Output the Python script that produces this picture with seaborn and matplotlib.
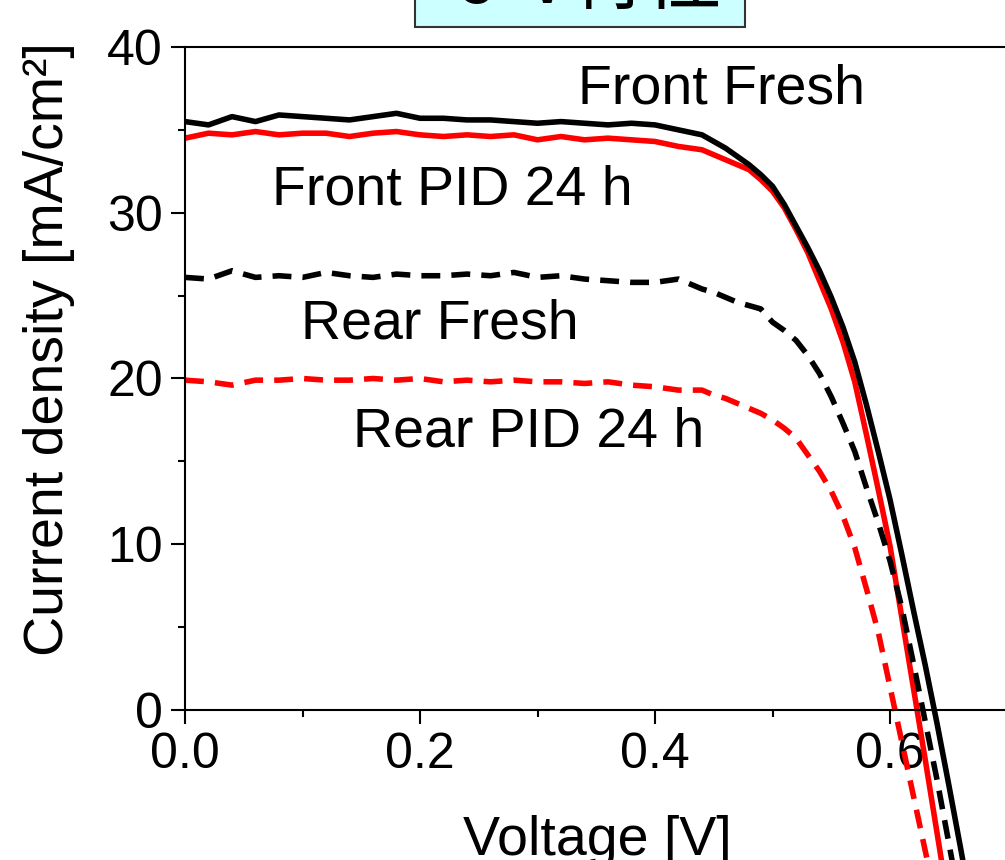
import numpy as np
import pandas as pd
import matplotlib
matplotlib.use('Agg')
import matplotlib.pyplot as plt
from matplotlib.patches import Rectangle
import seaborn as sns

sns.set_style('ticks')
plt.rcParams['font.family'] = ['Liberation Sans', 'DejaVu Sans']
plt.rcParams['text.color'] = 'black'

# voltage grid [V]
voltage = [0.00, 0.02, 0.04, 0.06, 0.08, 0.10, 0.12, 0.14, 0.16, 0.18, 0.20, 0.22,
           0.24, 0.26, 0.28, 0.30, 0.32, 0.34, 0.36, 0.38, 0.40, 0.42, 0.44,
           0.45, 0.46, 0.47, 0.48, 0.49, 0.50, 0.51, 0.52, 0.53, 0.54, 0.55, 0.56,
           0.57, 0.58, 0.59, 0.60, 0.61, 0.62, 0.63, 0.64, 0.65, 0.66, 0.67, 0.68]

# current density [mA/cm2]
front_fresh = [35.5, 35.3, 35.8, 35.5, 35.9, 35.8, 35.7, 35.6, 35.8, 36.0, 35.7, 35.7,
               35.6, 35.6, 35.5, 35.4, 35.5, 35.4, 35.3, 35.4, 35.3, 35.0, 34.7,
               34.3, 33.9, 33.4, 32.9, 32.3, 31.6, 30.5, 29.2, 27.9, 26.5, 24.9, 23.1,
               21.0, 18.4, 15.6, 12.7, 9.4, 6.0, 2.7, -0.8, -4.5, -8.3, -12.2, -16.2]
front_pid = [34.5, 34.8, 34.7, 34.9, 34.7, 34.8, 34.8, 34.6, 34.8, 34.9, 34.7, 34.6,
             34.7, 34.6, 34.7, 34.4, 34.6, 34.4, 34.5, 34.4, 34.3, 34.0, 33.8,
             33.5, 33.2, 32.9, 32.6, 32.0, 31.3, 30.3, 29.0, 27.6, 25.9, 24.2, 22.2,
             19.8, 16.6, 13.3, 9.9, 5.6, 1.3, -3.0, -7.4, -11.8, -16.3, -20.8, -25.3]
rear_fresh = [26.1, 26.0, 26.5, 26.1, 26.2, 26.1, 26.4, 26.2, 26.1, 26.3, 26.2, 26.2,
              26.3, 26.2, 26.4, 26.1, 26.2, 26.0, 25.9, 25.8, 25.8, 26.0, 25.4,
              25.2, 24.9, 24.6, 24.4, 24.2, 23.4, 22.9, 22.3, 21.4, 20.3, 18.9, 17.3,
              15.6, 13.4, 11.3, 9.0, 6.2, 2.8, -0.7, -4.2, -8.0, -11.8, -15.4, -19.0]
rear_pid = [19.9, 19.8, 19.6, 19.9, 19.9, 20.0, 19.9, 19.9, 20.0, 19.9, 20.0, 19.8,
            19.9, 19.8, 19.9, 19.8, 19.8, 19.7, 19.8, 19.6, 19.5, 19.3, 19.3,
            19.0, 18.8, 18.5, 18.2, 17.9, 17.5, 17.0, 16.4, 15.4, 14.4, 13.2, 11.7,
            9.8, 7.3, 4.7, 1.4, -1.9, -5.2, -8.5, -11.8, -15.1, -18.4, -21.7, -25.0]

curve_names = ['Front PID 24 h', 'Front Fresh', 'Rear PID 24 h', 'Rear Fresh']
df = pd.concat([
    pd.DataFrame({'V': voltage, 'J': front_pid, 'curve': 'Front PID 24 h'}),
    pd.DataFrame({'V': voltage, 'J': front_fresh, 'curve': 'Front Fresh'}),
    pd.DataFrame({'V': voltage, 'J': rear_pid, 'curve': 'Rear PID 24 h'}),
    pd.DataFrame({'V': voltage, 'J': rear_fresh, 'curve': 'Rear Fresh'}),
])

palette = {'Front Fresh': 'black', 'Front PID 24 h': '#ff0000',
           'Rear Fresh': 'black', 'Rear PID 24 h': '#ff0000'}
dashes = {'Front Fresh': '', 'Front PID 24 h': '',
          'Rear Fresh': (3.4, 2.0), 'Rear PID 24 h': (3.4, 2.0)}

fig = plt.figure(figsize=(10.05, 8.6), dpi=100)
ax = fig.add_axes([185 / 1005, 0, 822.5 / 1005, 813 / 860])

sns.lineplot(data=df, x='V', y='J', hue='curve', style='curve', hue_order=curve_names,
             style_order=curve_names, palette=palette, dashes=dashes, linewidth=4.0,
             sort=False, estimator=None, legend=False, ax=ax)

ax.set_xlim(0, 0.7)
ax.set_ylim(-9.05, 40)
ax.set_xlabel('')
ax.set_ylabel('')

ax.spines['right'].set_visible(False)
ax.spines['bottom'].set_position(('data', 0))
ax.spines['left'].set_bounds(0, 40)
for s in ['left', 'bottom', 'top']:
    ax.spines[s].set_linewidth(1.5)
    ax.spines[s].set_color('black')

ax.set_xticks([0.0, 0.2, 0.4, 0.6])
ax.set_xticklabels(['0.0', '0.2', '0.4', '0.6'])
ax.set_xticks([0.1, 0.3, 0.5], minor=True)
ax.set_yticks([0, 10, 20, 30, 40])
ax.set_yticks([5, 15, 25, 35], minor=True)
ax.tick_params(which='major', direction='out', length=10, width=1.5, labelsize=36, pad=6,
               color='black', labelcolor='black')
ax.tick_params(which='minor', direction='out', length=5, width=1.5, color='black')
ax.tick_params(top=False, right=False, which='both')

ax.text(0.3345, 36.6, 'Front Fresh', fontsize=40, va='baseline', color='black')
ax.text(0.074, 30.5, 'Front PID 24 h', fontsize=40, va='baseline', color='black')
ax.text(0.099, 22.4, 'Rear Fresh', fontsize=40, va='baseline', color='black')
ax.text(0.143, 15.9, 'Rear PID 24 h', fontsize=40, va='baseline', color='black')

fig.text(49 / 1005, (860 - 349) / 860, 'Current density [mA/cm²]',
         rotation=90, fontsize=40, ha='center', va='center', color='black')
fig.text(597 / 1005, 5 / 860, 'Voltage [V]', fontsize=40, ha='center', va='baseline',
         color='black')

# title box, mostly cut off at the top
fig.patches.append(Rectangle((415 / 1005, 1 - 27 / 860), 330 / 1005, 60 / 860,
                             transform=fig.transFigure, facecolor='#ccffff',
                             edgecolor='#333333', linewidth=1.5))
fig.text(722 / 1005, 1 - 3 / 860, 'J-V特性', fontsize=55, ha='right', va='baseline',
         family=['Noto Sans CJK JP', 'DejaVu Sans'], color='black')

fig.savefig('out.png', dpi=100)
